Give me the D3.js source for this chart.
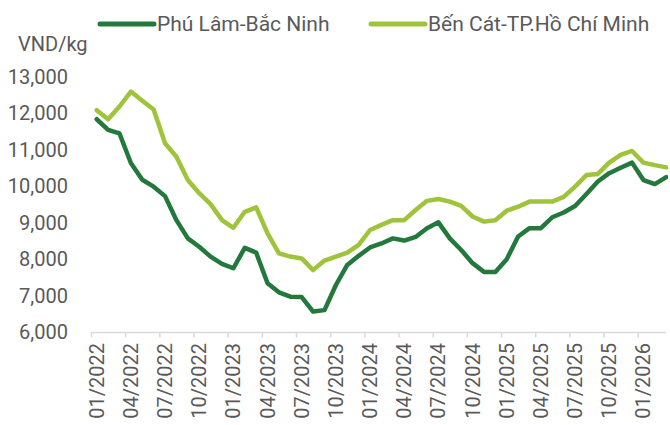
<!DOCTYPE html>
<html lang="vi">
<head>
<meta charset="UTF-8" />
<title>Giá lợn hơi</title>
<script src="https://d3js.org/d3.v7.min.js"></script>
<style>
  body { margin: 0; background: #fff; font-family: Roboto, "Noto Sans", sans-serif; }
  text { fill: #595959; }
</style>
</head>
<body>
<svg width="670" height="425"></svg>
<script>
// monthly, 01/2022 .. 03/2026
const months = [
  "01/2022","02/2022","03/2022","04/2022","05/2022","06/2022","07/2022","08/2022","09/2022","10/2022","11/2022","12/2022",
  "01/2023","02/2023","03/2023","04/2023","05/2023","06/2023","07/2023","08/2023","09/2023","10/2023","11/2023","12/2023",
  "01/2024","02/2024","03/2024","04/2024","05/2024","06/2024","07/2024","08/2024","09/2024","10/2024","11/2024","12/2024",
  "01/2025","02/2025","03/2025","04/2025","05/2025","06/2025","07/2025","08/2025","09/2025","10/2025","11/2025","12/2025",
  "01/2026","02/2026","03/2026"
];

const phuLam = [
  11840, 11550, 11450, 10640, 10180, 9990, 9730, 9070, 8570, 8340, 8070, 7870,
  7750, 8310, 8180, 7340, 7090, 6970, 6960, 6560, 6600, 7290, 7840, 8090,
  8320, 8430, 8570, 8510, 8610, 8850, 9010, 8570, 8250, 7890, 7650, 7650,
  8000, 8620, 8850, 8850, 9150, 9280, 9460, 9790, 10130, 10360, 10510, 10650,
  10170, 10060, 10250
];

const benCat = [
  12090, 11840, 12190, 12600, 12350, 12110, 11180, 10810, 10170, 9810, 9510, 9070,
  8860, 9300, 9420, 8710, 8160, 8070, 8020, 7700, 7960, 8070, 8180, 8390,
  8800, 8940, 9070, 9070, 9350, 9600, 9650, 9580, 9460, 9170, 9030, 9070,
  9330, 9440, 9580, 9580, 9580, 9710, 9990, 10310, 10340, 10650, 10860, 10970,
  10650, 10580, 10520
];

const seriesNames = ["Phú Lâm-Bắc Ninh", "Bến Cát-TP.Hồ Chí Minh"];
const seriesColors = ["#23793b", "#9fc33b"];
const yTicks = [6000, 7000, 8000, 9000, 10000, 11000, 12000, 13000];
const xTickLabels = ["01/2022","04/2022","07/2022","10/2022","01/2023","04/2023","07/2023","10/2023",
  "01/2024","04/2024","07/2024","10/2024","01/2025","04/2025","07/2025","10/2025","01/2026"];

const svg = d3.select("svg");
const left = 91, right = 666;

const x = d3.scaleLinear().domain([-0.5, months.length - 0.5]).range([left, left + 11.39 * months.length]);
const y = d3.scaleLinear().domain([6000, 13000]).range([332, 77]);

svg.append("defs").append("clipPath").attr("id", "plot")
  .append("rect").attr("x", 0).attr("y", 0).attr("width", 668).attr("height", 425);

// y labels
svg.append("g")
  .selectAll("text")
  .data(yTicks)
  .join("text")
  .attr("x", 68)
  .attr("y", d => y(d))
  .attr("dy", "0.35em")
  .attr("text-anchor", "end")
  .style("font-size", "20px")
  .text(d3.format(","));

svg.append("text")
  .attr("x", 18).attr("y", 44).attr("dy", "0.35em")
  .style("font-size", "20px")
  .text("VND/kg");

// x axis: ticks between categories, every 3 months
const boundaries = d3.range(-0.5, months.length - 0.5, 3);
const xAxis = svg.append("g")
  .attr("transform", "translate(0,332.5)")
  .call(d3.axisBottom(x).tickValues(boundaries).tickFormat("").tickSize(5).tickSizeOuter(0));
xAxis.select(".domain").attr("d", `M${left},0H${right}`).attr("stroke", "#d9d9d9").attr("stroke-width", 1.5);
xAxis.selectAll(".tick line").attr("stroke", "#d9d9d9").attr("stroke-width", 1.5);

svg.append("g")
  .selectAll("text")
  .data(xTickLabels)
  .join("text")
  .attr("transform", d => `translate(${x(months.indexOf(d))},343) rotate(-90)`)
  .attr("dy", "0.35em")
  .attr("text-anchor", "end")
  .style("font-size", "20px")
  .text(d => d);

// lines
const line = d3.line().x((d, i) => x(i)).y(d => y(d));
const plot = svg.append("g").attr("clip-path", "url(#plot)");
[phuLam, benCat].forEach((s, k) => {
  plot.append("path")
    .datum(s)
    .attr("d", line)
    .attr("fill", "none")
    .attr("stroke", seriesColors[k])
    .attr("stroke-width", 4.5)
    .attr("stroke-linejoin", "round")
    .attr("stroke-linecap", "round");
});

// legend
const legendX = [100, 371];
const leg = svg.append("g")
  .selectAll("g")
  .data(seriesNames)
  .join("g")
  .attr("transform", (d, i) => `translate(${legendX[i]},24)`);
leg.append("line")
  .attr("x1", 0).attr("x2", 54)
  .attr("stroke", (d, i) => seriesColors[i])
  .attr("stroke-width", 5)
  .attr("stroke-linecap", "round");
leg.append("text")
  .attr("x", 57).attr("dy", "0.35em")
  .style("font-size", "21px")
  .text(d => d);
</script>
</body>
</html>
